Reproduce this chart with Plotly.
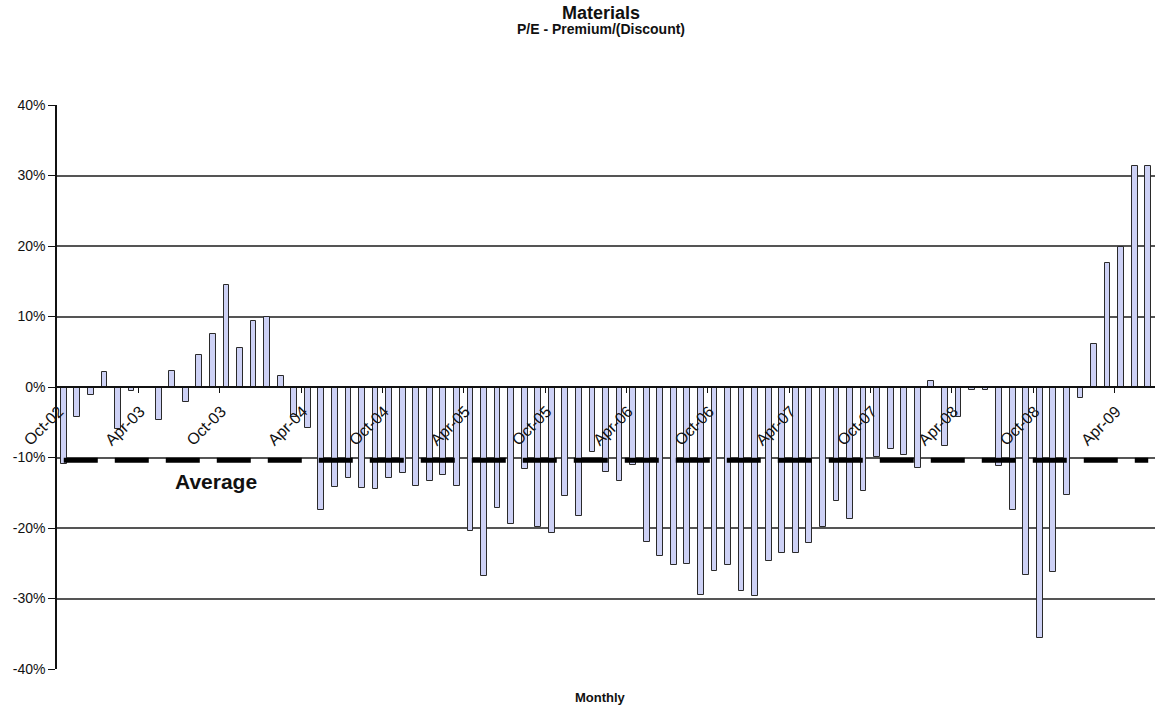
import plotly.graph_objects as go
import pandas as pd

# ---- data ----
months = [d.strftime("%b-%y") for d in pd.date_range("2002-10-01", periods=81, freq="MS")]
premium = [
    -10.9, -4.3, -1.1, 2.1, -6.0, -0.6, -0.2, -4.7, 2.3, -2.1,
    4.5, 7.5, 14.4, 5.5, 9.3, 9.9, 1.5, -4.3, -5.8, -17.5,
    -14.2, -12.9, -14.3, -14.5, -12.9, -12.2, -14.1, -13.4, -12.5, -14.1,
    -20.4, -26.8, -17.1, -19.4, -11.6, -19.9, -20.7, -15.4, -18.3, -9.2,
    -12.0, -13.4, -11.1, -22.0, -23.9, -25.3, -25.1, -29.5, -26.1, -25.2,
    -29.0, -29.6, -24.7, -23.5, -23.6, -22.1, -19.9, -16.1, -18.7, -14.7,
    -9.9, -8.8, -9.7, -11.5, 0.8, -8.4, -4.2, -0.4, -0.4, -11.2,
    -17.5, -26.6, -35.6, -26.2, -15.3, -1.6, 6.1, 17.6, 19.9, 31.3,
    31.3,
]
average_value = -10.4
tick_labels = ["Oct-02", "Apr-03", "Oct-03", "Apr-04", "Oct-04", "Apr-05", "Oct-05",
               "Apr-06", "Oct-06", "Apr-07", "Oct-07", "Apr-08", "Oct-08", "Apr-09"]
y_ticks = [-40, -30, -20, -10, 0, 10, 20, 30, 40]
y_tick_labels = ["-40%", "-30%", "-20%", "-10%", "0%", "10%", "20%", "30%", "40%"]

FONT = "Arial, Liberation Sans, sans-serif"

x_idx = list(range(len(premium)))
tick_pos = [months.index(t) for t in tick_labels]
boundary_ticks = [p - 0.5 for p in tick_pos[1:]]

fig = go.Figure()
fig.add_trace(go.Bar(
    x=x_idx, y=premium, width=0.42,
    marker=dict(color="#CDD1F5", line=dict(color="#2a2a2a", width=1)),
    customdata=months, hovertemplate="%{customdata}: %{y}%<extra></extra>",
    showlegend=False,
))
fig.add_trace(go.Scatter(
    x=[x_idx[0], x_idx[-1]], y=[average_value, average_value], mode="lines",
    line=dict(color="black", width=5, dash="34px,17px"),
    showlegend=False, hoverinfo="skip",
))

fig.update_layout(
    width=1156, height=708,
    margin=dict(l=57, r=1, t=105, b=39),
    paper_bgcolor="white", plot_bgcolor="white",
    bargap=0,
    font=dict(family=FONT, color="#111"),
    annotations=[
        dict(text="<b>Materials</b>", xref="paper", yref="paper", x=0.4954, y=1,
             yshift=104, showarrow=False, font=dict(size=18, family=FONT, color="#111")),
        dict(text="<b>P/E - Premium/(Discount)</b>", xref="paper", yref="paper", x=0.4954, y=1,
             yshift=86, showarrow=False, font=dict(size=14, family=FONT, color="#111")),
        dict(text="<b>Average</b>", xref="x", yref="y", x=11.2, y=-13.4,
             showarrow=False, font=dict(size=21, family=FONT, color="#111")),
        dict(text="<b>Monthly</b>", xref="paper", yref="paper", x=0.4954, y=0,
             yshift=-38, showarrow=False, font=dict(size=13, family=FONT, color="#111")),
    ],
)
fig.update_xaxes(
    range=[-0.5, len(premium) - 0.5],
    anchor="free", position=0.5,
    tickmode="array", tickvals=tick_pos, ticktext=tick_labels,
    tickangle=-45, tickfont=dict(size=16, family=FONT, color="#111"),
    ticklabelstandoff=8, ticklabelshift=-5,
    ticks="", showgrid=False, zeroline=False,
    showline=True, linecolor="#111", linewidth=1.5,
    minor=dict(tickmode="array", tickvals=boundary_ticks, ticks="outside",
               ticklen=5, tickcolor="#111", tickwidth=1, showgrid=False),
)
fig.update_yaxes(
    range=[-40, 40], tickmode="array", tickvals=y_ticks, ticktext=y_tick_labels,
    tickfont=dict(size=14, family=FONT, color="#111"),
    showgrid=True, gridcolor="#555", gridwidth=1.5,
    zeroline=False, showline=True, linecolor="#111", linewidth=1.5,
    ticks="outside", ticklen=7, tickcolor="#111",
)

fig.write_html("out.html", config={"displayModeBar": False},
               post_script="document.body.style.margin='0';")
